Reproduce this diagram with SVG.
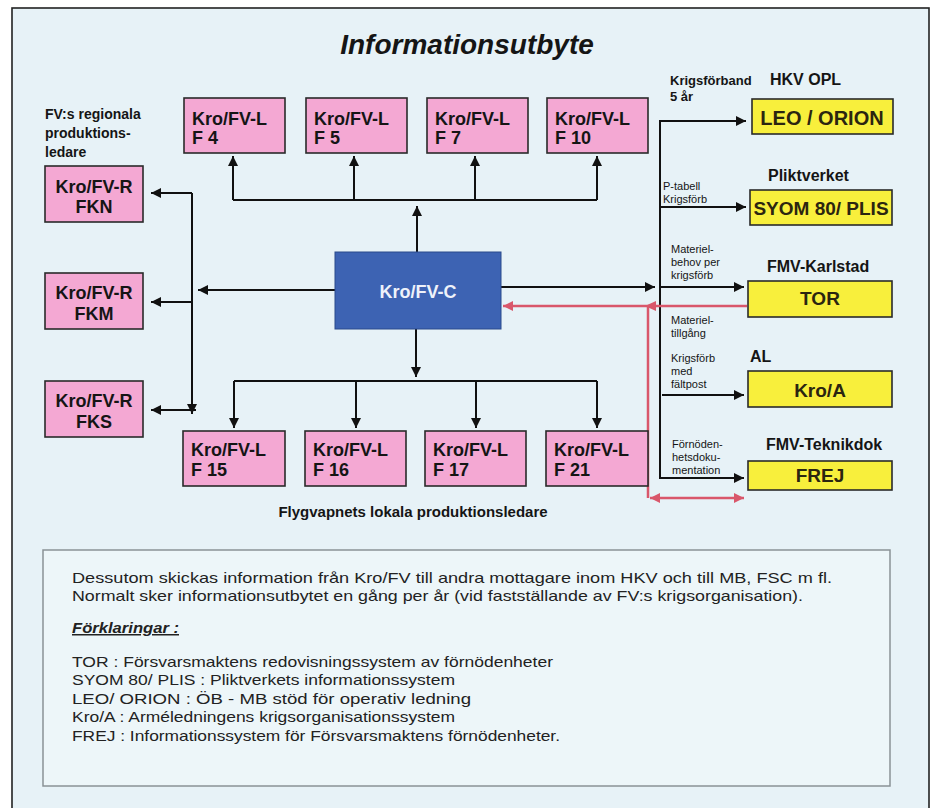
<svg xmlns="http://www.w3.org/2000/svg" width="933" height="808" viewBox="0 0 933 808">
  <defs>
    <style>
      text { font-family: "Liberation Sans", Arial, sans-serif; fill: #151515; }
      .title { font-size: 28px; font-weight: bold; font-style: italic; }
      .bx { font-size: 18px; font-weight: bold; }
      .pink { fill: #f4a8d3; stroke: #2a2a2a; stroke-width: 1.6; }
      .yel { fill: #f8ef3c; stroke: #2a2a2a; stroke-width: 1.6; }
      .ylab { font-size: 19px; font-weight: bold; text-anchor: middle; fill: #2b2510; }
      .hd { font-size: 15px; font-weight: bold; }
      .sm { font-size: 11px; }
      .smb { font-size: 13px; font-weight: bold; }
      .body { font-size: 15px; fill: #222; }
      .ln { fill: none; stroke: #111; stroke-width: 2; }
      .rd { fill: none; stroke: #d9576b; stroke-width: 2.5; }
    </style>
    <marker id="ah" viewBox="0 0 10 10" refX="10" refY="5" markerWidth="11" markerHeight="10" orient="auto-start-reverse" markerUnits="userSpaceOnUse">
      <path d="M0,0 L10,5 L0,10 z" fill="#111"/>
    </marker>
    <marker id="ahr" viewBox="0 0 10 10" refX="10" refY="5" markerWidth="11" markerHeight="10" orient="auto-start-reverse" markerUnits="userSpaceOnUse">
      <path d="M0,0 L10,5 L0,10 z" fill="#d9576b"/>
    </marker>
  </defs>

  <rect x="0" y="0" width="933" height="808" fill="#ffffff"/>
  <rect x="12" y="8" width="917" height="820" fill="#e7f2f7" stroke="#222" stroke-width="1.6"/>

  <text class="title" x="467" y="54" text-anchor="middle">Informationsutbyte</text>

  <!-- regional label -->
  <g id="label-regional">
    <text class="smb" x="45" y="119" style="font-size:14px">FV:s regionala</text>
    <text class="smb" x="45" y="138" style="font-size:14px">produktions-</text>
    <text class="smb" x="45" y="157" style="font-size:14px">ledare</text>
  </g>

  <!-- connectors -->
  <g id="connectors">
    <!-- up from C -->
    <path class="ln" d="M417,252 V206" marker-end="url(#ah)"/>
    <path class="ln" d="M233,200 H597"/>
    <path class="ln" d="M233,200 V156" marker-end="url(#ah)"/>
    <path class="ln" d="M354,200 V156" marker-end="url(#ah)"/>
    <path class="ln" d="M475,200 V156" marker-end="url(#ah)"/>
    <path class="ln" d="M597,200 V156" marker-end="url(#ah)"/>
    <!-- down from C -->
    <path class="ln" d="M416,329 V377" marker-end="url(#ah)"/>
    <path class="ln" d="M234,381 H597"/>
    <path class="ln" d="M234,381 V428" marker-end="url(#ah)"/>
    <path class="ln" d="M356,381 V428" marker-end="url(#ah)"/>
    <path class="ln" d="M476,381 V428" marker-end="url(#ah)"/>
    <path class="ln" d="M597,381 V428" marker-end="url(#ah)"/>
    <!-- left -->
    <path class="ln" d="M335,290 H198" marker-end="url(#ah)"/>
    <path class="ln" d="M192,193 V414" marker-end="url(#ah)"/>
    <path class="ln" d="M192,193 H151" marker-end="url(#ah)"/>
    <path class="ln" d="M192,302 H151" marker-end="url(#ah)"/>
    <path class="ln" d="M196,410 H151" marker-end="url(#ah)"/>
    <!-- right -->
    <path class="ln" d="M501,287 H655" marker-end="url(#ah)"/>
    <path class="ln" d="M660,121 V478"/>
    <path class="ln" d="M659,121 H746" marker-end="url(#ah)"/>
    <path class="ln" d="M659,207 H746" marker-end="url(#ah)"/>
    <path class="ln" d="M660,287 H744" marker-end="url(#ah)"/>
    <path class="ln" d="M662,395 H744" marker-end="url(#ah)"/>
    <path class="ln" d="M659,478 H744" marker-end="url(#ah)"/>
    <!-- red -->
    <path class="rd" d="M747,306 H503" marker-end="url(#ahr)"/>
    <path d="M645,306 L656,301 L656,311 z" fill="#d9576b"/>
    <path class="rd" d="M648,306 V498"/>
    <path class="rd" d="M650,498 H744" marker-start="url(#ahr)" marker-end="url(#ahr)"/>
  </g>

  <!-- top local boxes -->
  <g id="F4"><rect class="pink" x="184" y="98" width="101" height="55"/><text class="bx" x="192" y="125">Kro/FV-L</text><text class="bx" x="192" y="144">F 4</text></g>
  <g id="F5"><rect class="pink" x="306" y="98" width="101" height="55"/><text class="bx" x="314" y="125">Kro/FV-L</text><text class="bx" x="314" y="144">F 5</text></g>
  <g id="F7"><rect class="pink" x="427" y="98" width="101" height="55"/><text class="bx" x="435" y="125">Kro/FV-L</text><text class="bx" x="435" y="144">F 7</text></g>
  <g id="F10"><rect class="pink" x="547" y="98" width="101" height="55"/><text class="bx" x="555" y="125">Kro/FV-L</text><text class="bx" x="555" y="144">F 10</text></g>

  <!-- bottom local boxes -->
  <g id="F15"><rect class="pink" x="183" y="431" width="102" height="55"/><text class="bx" x="191" y="456">Kro/FV-L</text><text class="bx" x="191" y="476">F 15</text></g>
  <g id="F16"><rect class="pink" x="305" y="431" width="101" height="55"/><text class="bx" x="313" y="456">Kro/FV-L</text><text class="bx" x="313" y="476">F 16</text></g>
  <g id="F17"><rect class="pink" x="425" y="431" width="101" height="55"/><text class="bx" x="433" y="456">Kro/FV-L</text><text class="bx" x="433" y="476">F 17</text></g>
  <g id="F21"><rect class="pink" x="546" y="431" width="102" height="55"/><text class="bx" x="554" y="456">Kro/FV-L</text><text class="bx" x="554" y="476">F 21</text></g>

  <!-- regional boxes -->
  <g id="FKN"><rect class="pink" x="45" y="166" width="98" height="56"/><text class="bx" x="94" y="193" text-anchor="middle">Kro/FV-R</text><text class="bx" x="94" y="213" text-anchor="middle">FKN</text></g>
  <g id="FKM"><rect class="pink" x="45" y="273" width="98" height="56"/><text class="bx" x="94" y="299" text-anchor="middle">Kro/FV-R</text><text class="bx" x="94" y="320" text-anchor="middle">FKM</text></g>
  <g id="FKS"><rect class="pink" x="45" y="381" width="98" height="56"/><text class="bx" x="94" y="407" text-anchor="middle">Kro/FV-R</text><text class="bx" x="94" y="428" text-anchor="middle">FKS</text></g>

  <!-- central -->
  <g id="C"><rect x="335" y="252" width="166" height="77" fill="#3d63b3" stroke="#2b4a8c" stroke-width="1"/><text x="418" y="298" text-anchor="middle" style="font-size:18px;font-weight:bold;fill:#eef2fa">Kro/FV-C</text></g>

  <text class="hd" x="413" y="517" text-anchor="middle">Flygvapnets lokala produktionsledare</text>

  <!-- right side systems -->
  <g id="LEO">
    <text class="hd" x="770" y="85" style="font-size:16px">HKV OPL</text>
    <rect class="yel" x="752" y="99" width="141" height="35"/>
    <text class="ylab" x="822" y="125" style="font-size:20px">LEO / ORION</text>
  </g>
  <g id="SYOM">
    <text class="hd" x="768" y="181" style="font-size:16px">Pliktverket</text>
    <rect class="yel" x="750" y="190" width="142" height="35"/>
    <text class="ylab" x="821" y="215">SYOM 80/ PLIS</text>
  </g>
  <g id="TOR">
    <text class="hd" x="767" y="272" style="font-size:16px">FMV-Karlstad</text>
    <rect class="yel" x="748" y="281" width="144" height="36"/>
    <text class="ylab" x="820" y="305">TOR</text>
  </g>
  <g id="KroA">
    <text class="hd" x="750" y="362" style="font-size:16px">AL</text>
    <rect class="yel" x="748" y="371" width="144" height="36"/>
    <text class="ylab" x="820" y="397">Kro/A</text>
  </g>
  <g id="FREJ">
    <text class="hd" x="766" y="450" style="font-size:16px">FMV-Teknikdok</text>
    <rect class="yel" x="748" y="461" width="144" height="29"/>
    <text class="ylab" x="820" y="482">FREJ</text>
  </g>

  <!-- connector labels -->
  <g id="edge-labels">
    <text class="smb" x="670" y="85">Krigsförband</text>
    <text class="smb" x="670" y="101">5 år</text>
    <text class="sm" x="663" y="190">P-tabell</text>
    <text class="sm" x="663" y="203">Krigsförb</text>
    <text class="sm" x="671" y="253">Materiel-</text>
    <text class="sm" x="671" y="266">behov per</text>
    <text class="sm" x="671" y="279">krigsförb</text>
    <text class="sm" x="671" y="324">Materiel-</text>
    <text class="sm" x="671" y="337">tillgång</text>
    <text class="sm" x="671" y="362">Krigsförb</text>
    <text class="sm" x="671" y="375">med</text>
    <text class="sm" x="671" y="388">fältpost</text>
    <text class="sm" x="672" y="448">Förnöden-</text>
    <text class="sm" x="672" y="461">hetsdoku-</text>
    <text class="sm" x="672" y="474">mentation</text>
  </g>

  <!-- bottom text box -->
  <g id="notes">
    <rect x="43" y="550" width="847" height="236" fill="#edf6f9" stroke="#8a9296" stroke-width="1.5"/>
    <text class="body" x="72" y="583" textLength="760" lengthAdjust="spacingAndGlyphs">Dessutom skickas information från Kro/FV till andra mottagare inom HKV och till MB, FSC m fl.</text>
    <text class="body" x="72" y="601" textLength="731" lengthAdjust="spacingAndGlyphs">Normalt sker informationsutbytet en gång per år (vid fastställande av FV:s krigsorganisation).</text>
    <text class="body" x="72" y="633" style="font-weight:bold;font-style:italic;text-decoration:underline" textLength="107" lengthAdjust="spacingAndGlyphs">Förklaringar :</text>
    <text class="body" x="72" y="667" textLength="481" lengthAdjust="spacingAndGlyphs">TOR : Försvarsmaktens redovisningssystem av förnödenheter</text>
    <text class="body" x="72" y="685" textLength="383" lengthAdjust="spacingAndGlyphs">SYOM 80/ PLIS : Pliktverkets informationssystem</text>
    <text class="body" x="72" y="704" textLength="399" lengthAdjust="spacingAndGlyphs">LEO/ ORION : ÖB - MB stöd för operativ ledning</text>
    <text class="body" x="72" y="722" textLength="383" lengthAdjust="spacingAndGlyphs">Kro/A : Arméledningens krigsorganisationssystem</text>
    <text class="body" x="72" y="741" textLength="488" lengthAdjust="spacingAndGlyphs">FREJ : Informationssystem för Försvarsmaktens förnödenheter.</text>
  </g>
</svg>
